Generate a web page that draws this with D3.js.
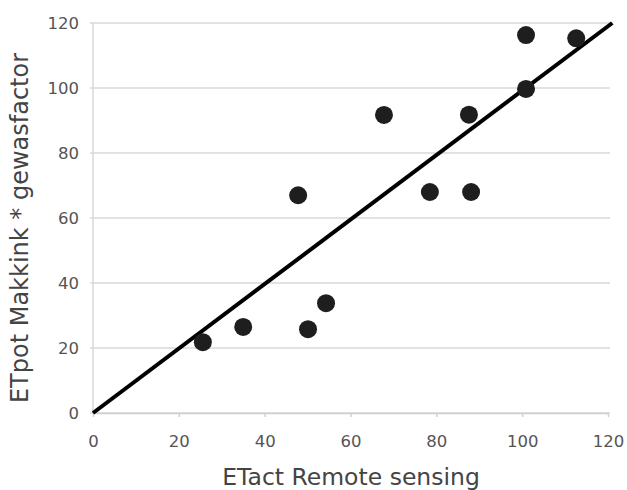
<!DOCTYPE html>
<html><head><meta charset="utf-8">
<script src="https://cdn.jsdelivr.net/npm/d3@7"></script>
<style>body{margin:0;background:#fff}svg{display:block}</style>
</head><body>
<svg id="c" width="627" height="490"></svg>
<script>
const xVals = [25.6, 35, 47.8, 50.1, 54.3, 67.8, 78.5, 87.6, 88.1, 100.9, 100.9, 112.6];
const yVals = [21.8, 26.5, 67, 25.8, 33.8, 91.7, 68, 91.8, 68, 99.7, 116.3, 115.3];
const lineX = [0, 121];
const lineY = [0, 120];
const xTicks = [0, 20, 40, 60, 80, 100, 120];
const yTicks = [0, 20, 40, 60, 80, 100, 120];
const xTitle = "ETact Remote sensing";
const yTitle = "ETpot Makkink * gewasfactor";

const svg = d3.select("#c");
const x = d3.scaleLinear().domain([0, 120]).range([93, 608]);
const y = d3.scaleLinear().domain([0, 120]).range([413, 23]);
const font = "'DejaVu Sans', Verdana, sans-serif";

// gridlines
svg.append("g").selectAll("line").data(yTicks).join("line")
  .attr("x1", x(0) - 3).attr("x2", x(120) + 2)
  .attr("y1", d => y(d)).attr("y2", d => y(d))
  .attr("stroke", "#d9d9d9").attr("stroke-width", 1.5);

// y axis line
svg.append("line").attr("x1", x(0)).attr("x2", x(0)).attr("y1", y(0)).attr("y2", y(120))
  .attr("stroke", "#d9d9d9").attr("stroke-width", 1.5);

// x axis
const xa = svg.append("g").attr("transform", `translate(0,${y(0)})`)
  .call(d3.axisBottom(x).tickValues(xTicks).tickSize(4).tickPadding(18).tickSizeOuter(0));
xa.select(".domain").attr("stroke", "#d0d0d0").attr("stroke-width", 1.5);
xa.selectAll(".tick line").attr("stroke", "#d0d0d0").attr("stroke-width", 1.5);
xa.selectAll("text").attr("fill", "#555").style("font-family", font).style("font-size", "16.5px");

// y axis labels
const ya = svg.append("g").attr("transform", `translate(${x(0)},0)`)
  .call(d3.axisLeft(y).tickValues(yTicks).tickSize(0).tickPadding(14));
ya.select(".domain").remove();
ya.selectAll("text").attr("fill", "#555").style("font-family", font).style("font-size", "16.5px");

// line
svg.append("path")
  .datum(lineX.map((v, i) => [v, lineY[i]]))
  .attr("d", d3.line().x(d => x(d[0])).y(d => y(d[1])))
  .attr("stroke", "#000").attr("stroke-width", 4).attr("fill", "none");

// points
svg.append("g").selectAll("circle").data(xVals.map((v, i) => [v, yVals[i]])).join("circle")
  .attr("cx", d => x(d[0])).attr("cy", d => y(d[1])).attr("r", 9)
  .attr("fill", "#1e1e1e");

// titles
svg.append("text").attr("x", 351).attr("y", 485).attr("text-anchor", "middle")
  .attr("fill", "#444").style("font-family", font).style("font-size", "23.5px").text(xTitle);
svg.append("text").attr("transform", "translate(28,228) rotate(-90)").attr("text-anchor", "middle")
  .attr("fill", "#444").style("font-family", font).style("font-size", "24px").text(yTitle);
</script>
</body></html>
